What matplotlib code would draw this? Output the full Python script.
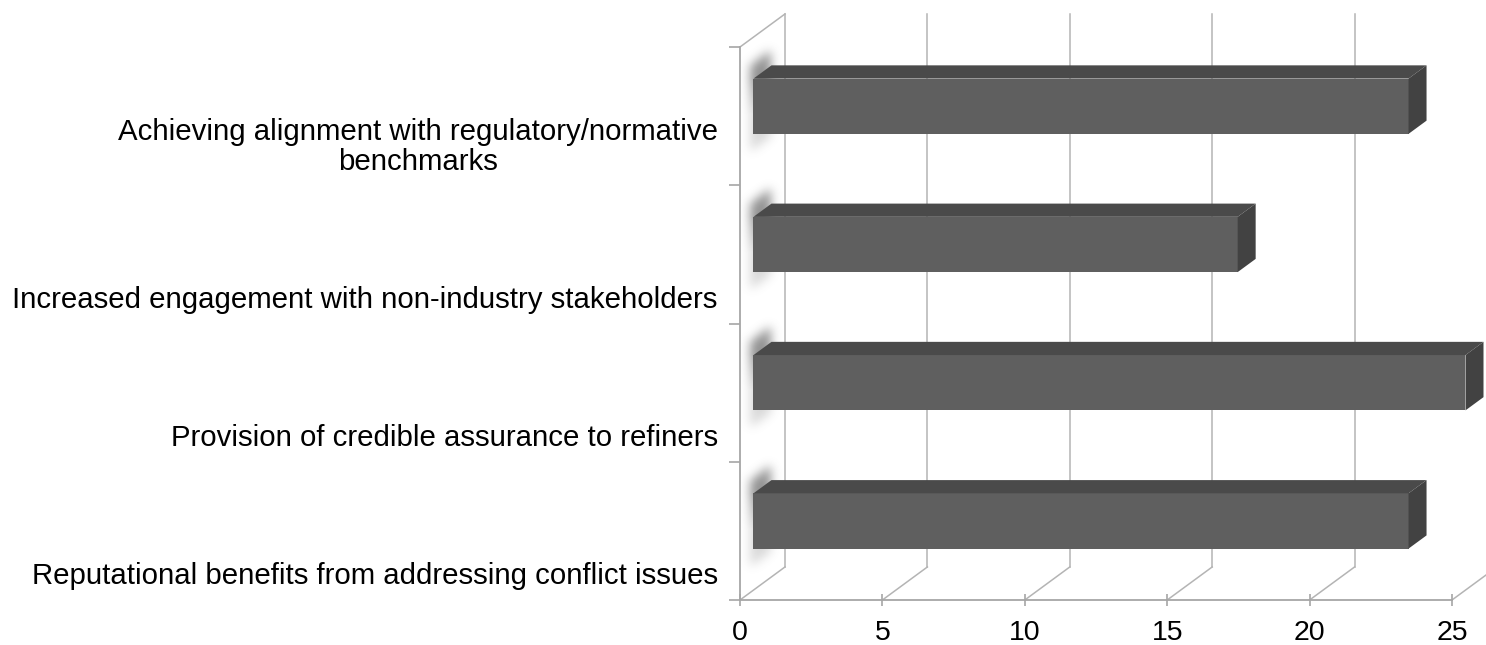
import numpy as np
import matplotlib
matplotlib.use("Agg")
import matplotlib.pyplot as plt
from matplotlib.patches import Polygon
from matplotlib import transforms

# bottom-to-top order
categories = [
    "Reputational benefits from addressing conflict issues",
    "Provision of credible assurance to refiners",
    "Increased engagement with non-industry stakeholders",
    "Achieving alignment with regulatory/normative\nbenchmarks",
]
values = [23, 25, 17, 23]
x_ticks = [0, 5, 10, 15, 20, 25]

# pseudo-3D geometry (data units): full floor depth and bar slab
DX, DY = 1.58, 0.239
BAR_H = 0.4
D_FRONT, D_BACK = 0.3, 0.7
PX_X, PX_Y = 28.48, 138.25   # pixels per data unit, used for the soft shading

FRONT = "#5f5f5f"
TOP = "#4a4a4a"
SIDE = "#424242"
GRID = "#b4b4b4"
AXIS = "#a6a6a6"

plt.rcParams["font.family"] = ["Liberation Sans", "DejaVu Sans"]


def _blur(a, sigma):
    r = int(3 * sigma)
    k = np.exp(-0.5 * (np.arange(-r, r + 1) / sigma) ** 2)
    k /= k.sum()
    a = np.apply_along_axis(lambda m: np.convolve(m, k, mode="same"), 0, a)
    a = np.apply_along_axis(lambda m: np.convolve(m, k, mode="same"), 1, a)
    return a


fig = plt.figure(figsize=(14.86, 6.45), dpi=100)
ax = fig.add_axes([740 / 1486, 45 / 645, 712 / 1486, 553 / 645])
ax.patch.set_visible(False)

ymin, ymax = -0.5, 3.5

# back wall gridlines + floor diagonals
for t in x_ticks:
    ax.plot([t + DX, t + DX], [ymin + DY, ymax + DY], color=GRID, lw=1.1,
            clip_on=False, zorder=1)
    ax.plot([t, t + DX], [ymin, ymin + DY], color=GRID, lw=1.1,
            clip_on=False, zorder=1)
# top edge of the side wall
ax.plot([0, DX], [ymax, ymax + DY], color=GRID, lw=1.1, clip_on=False, zorder=1)

# soft shading of the bar ends on the side wall
ddx = (D_BACK - D_FRONT) * DX
ddy = (D_BACK - D_FRONT) * DY
for i, v in enumerate(values):
    fx0 = D_FRONT * DX
    f_top = i + BAR_H / 2 + D_FRONT * DY
    f_bot = i - BAR_H / 2 + D_FRONT * DY
    x0, x1 = fx0 - 16 / PX_X, fx0 + ddx + 12 / PX_X
    y0, y1 = f_bot - 40 / PX_Y, f_top + ddy + 40 / PX_Y
    nx = int((x1 - x0) * PX_X)
    ny = int((y1 - y0) * PX_Y)
    xx = np.linspace(x0, x1, nx)[None, :]
    yy = np.linspace(y1, y0, ny)[:, None]
    slope = (xx - fx0) * (ddy / ddx)
    inside_x = (xx >= fx0 - 3 / PX_X) & (xx <= fx0 + ddx)
    inside_y = (yy <= f_top + slope + 15 / PX_Y) & (yy >= f_bot + slope - 16 / PX_Y)
    mask = (inside_x & inside_y).astype(float)
    # fade the lower part so the top corner reads darkest
    weight = np.clip((yy - f_bot) / (f_top - f_bot), 0.35, 1.0)
    alpha = _blur(mask, 5.0) * weight * 0.68
    img = np.zeros((ny, nx, 4))
    img[..., :3] = 0.36
    img[..., 3] = np.clip(alpha, 0, 1)
    ax.imshow(img, extent=[x0, x1, y0, y1], aspect="auto",
              interpolation="bilinear", zorder=2, clip_on=False)

ax.set_xlim(0, 25)
ax.set_ylim(ymin, ymax)

# bars: front faces from the data, top and end faces follow the same values
y_pos = np.arange(len(values))
ax.barh(y_pos + D_FRONT * DY, values, height=BAR_H, left=D_FRONT * DX,
        color=FRONT, edgecolor="none", zorder=4, clip_on=False)
for i, v in enumerate(values):
    fy_top = i + BAR_H / 2 + D_FRONT * DY
    fy_bot = i - BAR_H / 2 + D_FRONT * DY
    fx0 = D_FRONT * DX
    fx1 = D_FRONT * DX + v
    top_face = Polygon([(fx0, fy_top), (fx1, fy_top), (fx1 + ddx, fy_top + ddy),
                        (fx0 + ddx, fy_top + ddy)], closed=True,
                       facecolor=TOP, edgecolor="none", zorder=4, clip_on=False)
    side_face = Polygon([(fx1, fy_top), (fx1 + ddx, fy_top + ddy),
                         (fx1 + ddx, fy_bot + ddy), (fx1, fy_bot)], closed=True,
                        facecolor=SIDE, edgecolor="none", zorder=4, clip_on=False)
    ax.add_patch(top_face)
    ax.add_patch(side_face)

# front axes
for side in ("top", "right"):
    ax.spines[side].set_visible(False)
for side in ("left", "bottom"):
    ax.spines[side].set_color(AXIS)
    ax.spines[side].set_linewidth(1.3)
    ax.spines[side].set_zorder(5)

ax.set_xticks(x_ticks)
ax.set_xticklabels([str(t) for t in x_ticks])
ax.tick_params(axis="x", direction="inout", length=9, width=1.2, color=AXIS,
               labelsize=20.5, pad=10, labelcolor="black")
ax.set_yticks(np.arange(-0.5, 3.6, 1.0))
ax.set_yticklabels([])
ax.tick_params(axis="y", direction="out", length=8, width=1.2, color=AXIS)

# category labels, bottom-aligned inside each band
lbl_tr = transforms.offset_copy(ax.transData, fig=fig, x=-16, y=0, units="points")
for i, name in enumerate(categories):
    ax.text(0, i - 0.43, name, transform=lbl_tr, ha="right", va="bottom",
            multialignment="center", fontsize=21.2, color="black",
            linespacing=1.05)

fig.savefig("out.png", dpi=100)
